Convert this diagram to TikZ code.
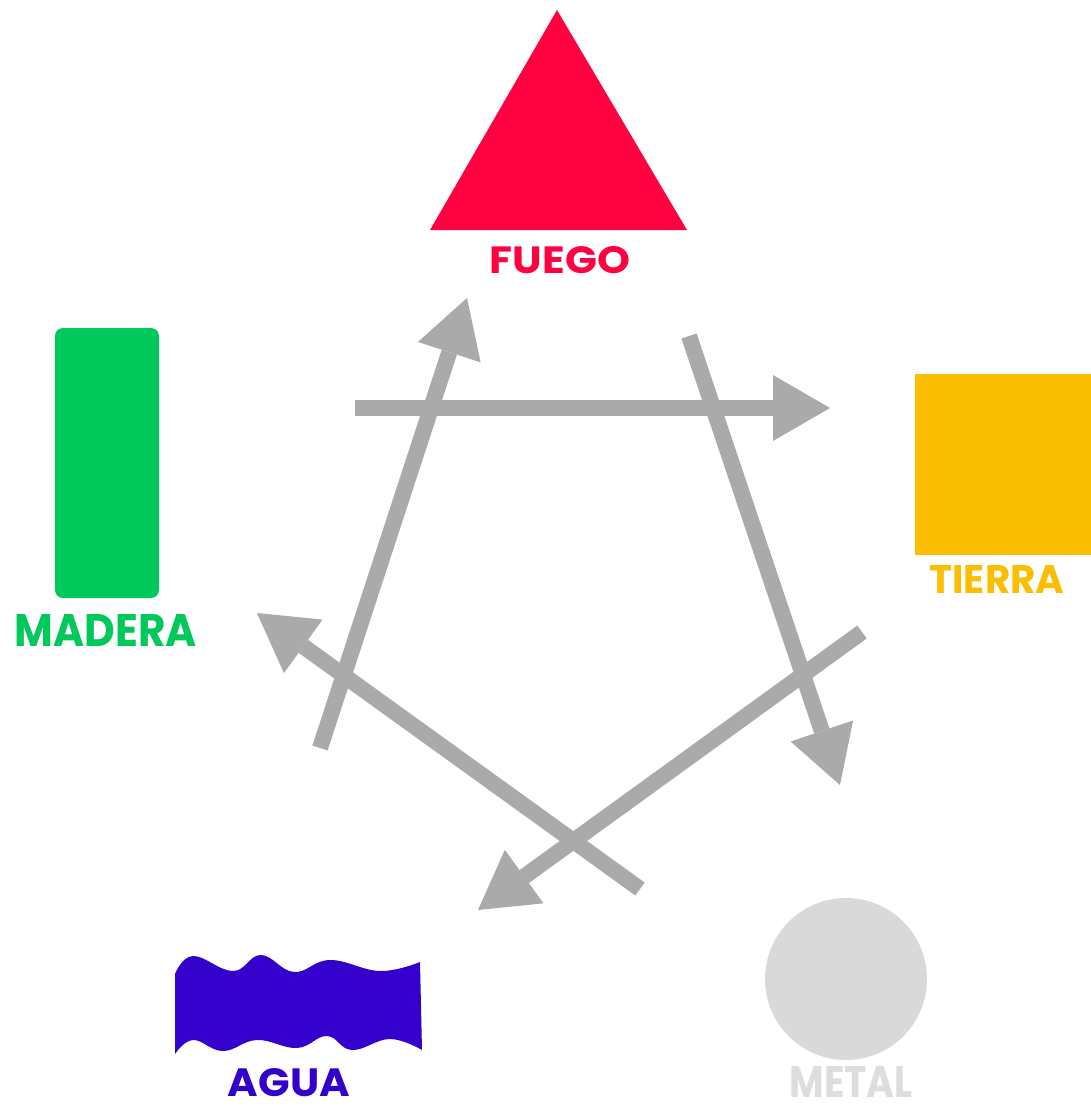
\documentclass[tikz,border=0pt]{standalone}
\usepackage{fontspec}
\setmainfont{Poppins}
\usepackage{graphicx}
\usetikzlibrary{arrows.meta}
\definecolor{fire}{RGB}{255,0,64}
\definecolor{wood}{RGB}{0,200,90}
\definecolor{earth}{RGB}{252,190,0}
\definecolor{metalc}{RGB}{217,217,217}
\definecolor{metaltext}{RGB}{220,222,222}
\definecolor{water}{RGB}{51,0,204}
\definecolor{arrowgray}{RGB}{170,170,170}
\begin{document}
\begin{tikzpicture}[x=1pt,y=-1pt,
  lbl/.style={inner sep=0pt, anchor=base, font=\bfseries},
  flow/.style={draw=arrowgray, line width=16pt, line cap=butt,
    -{Triangle[length=57pt,width=66pt,line width=0pt]}}]
\useasboundingbox[fill=white] (0,0) rectangle (1091,1108);

% FUEGO triangle
\fill[fire] (557,10) -- (687,230) -- (430,230) -- cycle;
\node[lbl,text=fire] (fuegoL) at (560,273) {\resizebox{140pt}{27pt}{FUEGO}};

% MADERA rectangle
\fill[wood, rounded corners=8pt] (55,328) rectangle (159,598);
\node[lbl,text=wood] (maderaL) at (106,646) {\resizebox{182pt}{32pt}{MADERA}};

% TIERRA square
\fill[earth] (915,374) rectangle (1095,555);
\node[lbl,text=earth] (tierraL) at (997,593) {\resizebox{135pt}{28pt}{TIERRA}};

% METAL circle
\fill[metalc] (846,979) circle (81);
\node[lbl,text=metaltext] (metalL) at (851,1097) {\resizebox{123pt}{31pt}{METAL}};

% AGUA wave
\fill[water] (175,974) -- plot[smooth, tension=0.7] coordinates {(175,974) (193,956) (233,971) (261,955) (294,972) (330,960) (380,971) (420,962)}
  -- (422,1050)
  -- plot[smooth, tension=0.7] coordinates {(422,1050) (390,1039) (352,1050) (327,1036) (297,1048) (257,1040) (223,1051) (193,1040) (175,1054)}
  -- cycle;
\node[lbl,text=water] (aguaL) at (289,1096) {\resizebox{122pt}{28pt}{AGUA}};

% arrow endpoints
\coordinate (a1s) at (355,408);
\coordinate (a1e) at (830,408);
\coordinate (a2s) at (689,336);
\coordinate (a2e) at (840,785);
\coordinate (a3s) at (862,632);
\coordinate (a3e) at (478,910);
\coordinate (a4s) at (640,889);
\coordinate (a4e) at (257,613);
\coordinate (a5s) at (320,748);
\coordinate (a5e) at (467,298);

\draw[flow] (a1s) -- (a1e);
\draw[flow] (a2s) -- (a2e);
\draw[flow] (a3s) -- (a3e);
\draw[flow] (a4s) -- (a4e);
\draw[flow] (a5s) -- (a5e);
\end{tikzpicture}
\end{document}
